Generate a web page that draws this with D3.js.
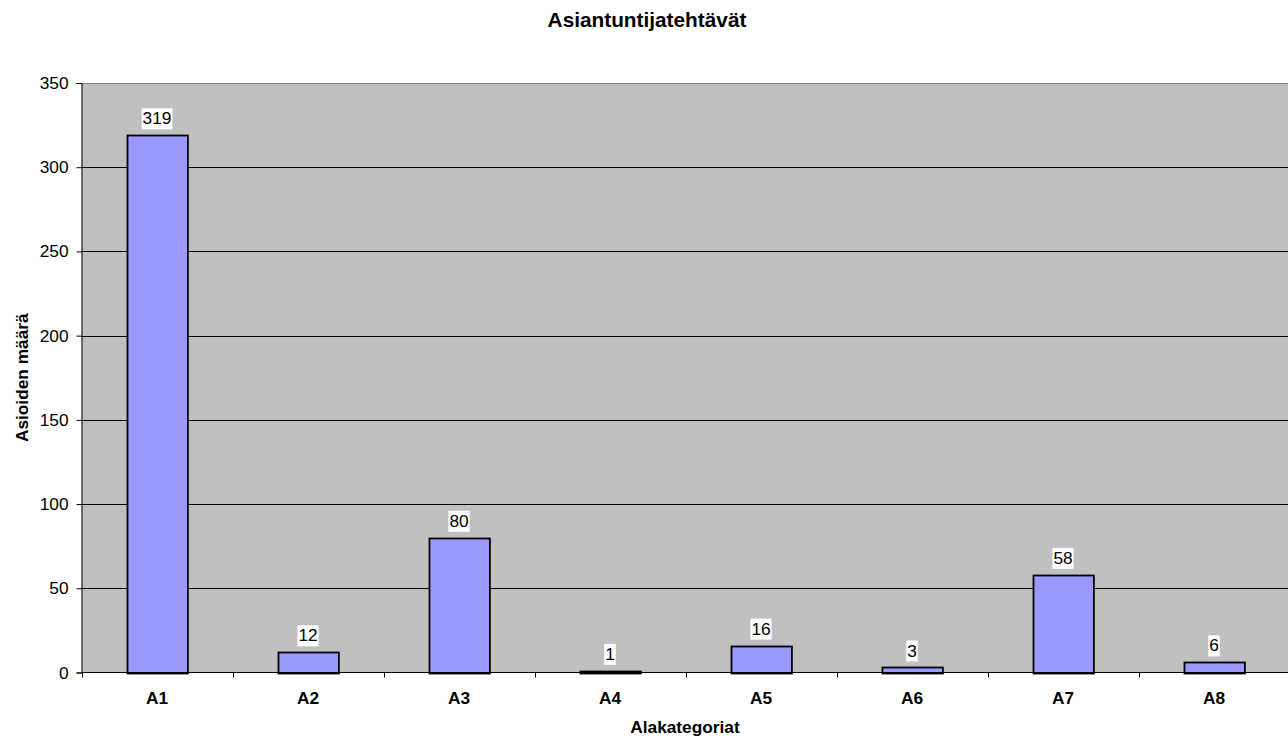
<!DOCTYPE html>
<html>
<head>
<meta charset="utf-8">
<script src="https://cdn.jsdelivr.net/npm/d3@7"></script>
<style>
  html, body { margin: 0; padding: 0; background: #fff; }
  svg { display: block; font-family: Arial, "Liberation Sans", sans-serif; }
</style>
</head>
<body>
<svg id="chart" width="1288" height="740"></svg>
<script>
// Asiantuntijatehtävät by subcategory
const categories = ["A1", "A2", "A3", "A4", "A5", "A6", "A7", "A8"];
const values = [319, 12, 80, 1, 16, 3, 58, 6];
const yTicks = [0, 50, 100, 150, 200, 250, 300, 350];

const title = "Asiantuntijatehtävät";
const xTitle = "Alakategoriat";
const yTitle = "Asioiden määrä";

const FONT = "Arial, 'Liberation Sans', sans-serif";
const BASE = 17.3;   // axis and label text
const TITLE = 20.8;  // chart title

const svg = d3.select("#chart");
const plot = { left: 81.5, right: 1289.5, top: 83, bottom: 672.5 };

const x = d3.scaleBand()
  .domain(categories)
  .range([plot.left, plot.right])
  .paddingInner(0.6)
  .paddingOuter(0.3);

const xBand = d3.scaleBand()
  .domain(categories)
  .range([plot.left, plot.right]);

const y = d3.scaleLinear()
  .domain([0, 350])
  .range([plot.bottom, plot.top]);

// plot background
svg.append("rect")
  .attr("x", plot.left).attr("y", plot.top)
  .attr("width", plot.right - plot.left)
  .attr("height", plot.bottom - plot.top)
  .attr("fill", "#c0c0c0");

// gridlines
svg.append("g")
  .selectAll("line")
  .data(yTicks.filter(d => d > 0))
  .join("line")
  .attr("x1", plot.left).attr("x2", plot.right)
  .attr("y1", d => Math.round(y(d)) + 0.5)
  .attr("y2", d => Math.round(y(d)) + 0.5)
  .attr("stroke", d => d === 350 ? "#808080" : "#000")
  .attr("stroke-width", 1);

// bars
svg.append("g")
  .selectAll("rect")
  .data(values)
  .join("rect")
  .attr("x", (d, i) => Math.round(x(categories[i])) + 0.5)
  .attr("y", d => Math.round(y(d)) + 0.5)
  .attr("width", x.bandwidth())
  .attr("height", d => Math.round(plot.bottom) - Math.round(y(d)))
  .attr("fill", "#9999ff")
  .attr("stroke", "#000")
  .attr("stroke-width", 1.8);

// value labels with white backing
const labels = svg.append("g")
  .selectAll("g")
  .data(values)
  .join("g")
  .attr("transform", (d, i) => `translate(${x(categories[i]) + x.bandwidth() / 2},${y(d) - 17})`);

labels.each(function(d) {
  const g = d3.select(this);
  const t = g.append("text")
    .attr("text-anchor", "middle")
    .attr("dy", "0.35em")
    .attr("font-size", BASE)
    .attr("fill", "#000")
    .text(d);
  const bb = t.node().getBBox();
  g.insert("rect", "text")
    .attr("x", bb.x - 1).attr("y", bb.y)
    .attr("width", bb.width + 2).attr("height", bb.height + 1)
    .attr("fill", "#fff");
});

// y axis
const yAxis = d3.axisLeft(y).tickValues(yTicks).tickSize(5).tickPadding(8);
svg.append("g")
  .attr("transform", `translate(${plot.left},0)`)
  .call(yAxis)
  .call(g => g.select(".domain").attr("stroke", "#000"))
  .call(g => g.selectAll(".tick line").attr("stroke", "#000"))
  .call(g => g.selectAll(".tick text")
    .attr("font-size", BASE).attr("font-family", FONT).attr("fill", "#000"));

// x axis baseline and ticks at band boundaries
const xg = svg.append("g");
xg.append("line")
  .attr("x1", plot.left).attr("x2", plot.right)
  .attr("y1", plot.bottom).attr("y2", plot.bottom)
  .attr("stroke", "#000");
xg.selectAll("line.tick")
  .data(categories)
  .join("line")
  .attr("class", "tick")
  .attr("x1", d => Math.round(xBand(d)) + 0.5)
  .attr("x2", d => Math.round(xBand(d)) + 0.5)
  .attr("y1", plot.bottom).attr("y2", plot.bottom + 5)
  .attr("stroke", "#000");
xg.selectAll("text")
  .data(categories)
  .join("text")
  .attr("x", d => xBand(d) + xBand.bandwidth() / 2)
  .attr("y", 704)
  .attr("text-anchor", "middle")
  .attr("font-size", BASE)
  .attr("font-weight", "bold")
  .text(d => d);

// titles
svg.append("text")
  .attr("x", 647).attr("y", 27)
  .attr("text-anchor", "middle")
  .attr("font-size", TITLE)
  .attr("font-weight", "bold")
  .text(title);

svg.append("text")
  .attr("x", 685).attr("y", 733)
  .attr("text-anchor", "middle")
  .attr("font-size", BASE)
  .attr("font-weight", "bold")
  .text(xTitle);

svg.append("text")
  .attr("transform", `translate(28,${(plot.top + plot.bottom) / 2}) rotate(-90)`)
  .attr("text-anchor", "middle")
  .attr("font-size", BASE)
  .attr("font-weight", "bold")
  .text(yTitle);
</script>
</body>
</html>
